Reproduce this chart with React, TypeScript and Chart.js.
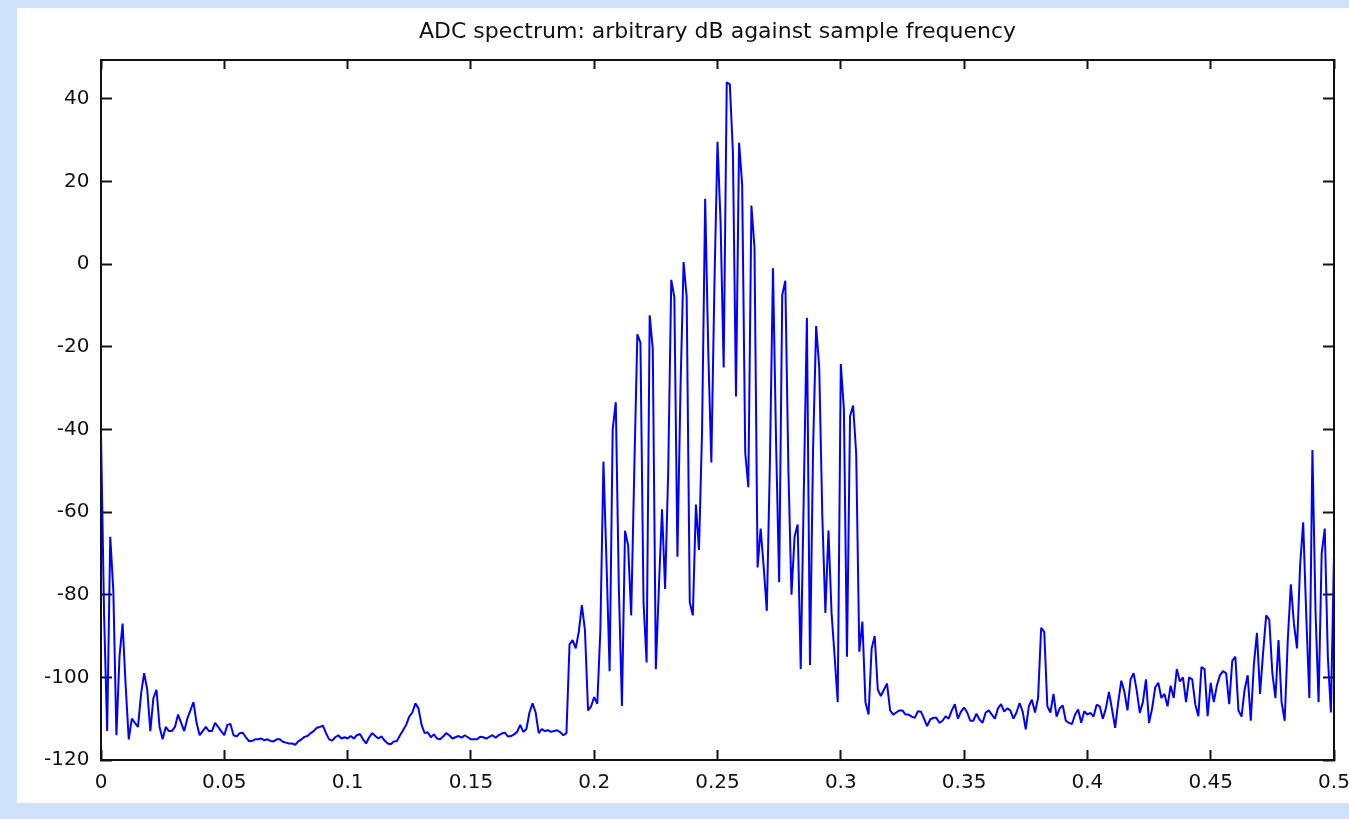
import { useEffect, useRef } from "react";
import { Chart, registerables } from "chart.js";

Chart.register(...registerables);

const TITLE = "ADC spectrum: arbitrary dB against sample frequency";
const FONT_FAMILY = "DejaVu Sans";

// spacing of the spectrum bins (fraction of sample frequency)
const BIN_WIDTH = 0.00125;

// dB values, in bin order
const DB_LOW_BAND = [
  -41, -85, -113, -66, -79, -114, -95, -87, -102, -115,
  -110, -111, -112, -104, -99, -103, -113, -105, -103, -112,
  -115, -112, -113, -113, -112, -109, -111, -113, -110, -108,
  -106, -111, -114, -113, -112, -113, -113, -111, -112, -113,
  -114, -111.5, -111.3, -114, -114.3, -113.5, -113.4, -114.5, -115.4, -115.4,
  -115, -115, -114.8, -115.2, -115, -115.4, -115.5, -115, -115, -115.6,
  -115.8, -116, -116, -116.3, -115.5, -115, -114.4, -114.2, -113.5, -113,
  -112.2, -112, -111.7, -113.5, -115, -115.3, -114.5, -114, -114.8, -114.5,
  -114.8, -114.2, -114.8, -114, -113.7, -115, -116, -114.5, -113.5, -114.2,
  -114.8, -114.3, -115.3, -116, -116.2, -115.5, -115.4, -114, -112.8, -111.5,
  -109.5, -108.5, -106.3, -107.5, -111.5, -113.5, -113.3, -114.5, -113.8, -114.8,
  -115, -114.3, -113.5, -114, -114.8, -114.5, -114.2, -114.6, -114, -114.5,
  -115, -115, -115, -114.4, -114.5, -114.8, -114.4, -114, -114.6, -114,
  -113.6, -113.4, -114.3, -114.2, -113.8, -113.2, -111.5, -113.2, -112.5, -108.5,
  -106.3, -108.5, -113.5, -112.5, -113, -112.8, -113.2, -113, -112.8, -113.3,
  -114, -113.5,
];

const DB_MAIN_LOBE = [
  -92, -91, -93, -89, -82.5, -88.6, -108, -107, -104.8, -106.4,
  -88.6, -47.8, -72.4, -98.5, -40, -33.4, -78.6, -106.9, -64.5, -68,
  -85, -50, -17, -19, -81.8, -96.4, -12.4, -20.5, -98, -78,
  -59.3, -78.6, -50.4, -3.8, -8, -70.8, -30, 0.5, -8, -81.8,
  -85, -58.2, -69.2, -40, 15.8, -21, -48, -5, 29.6, 10,
  -25, 44, 43.5, 27, -32, 29.4, 19.3, -45.7, -54, 14.2,
  4, -73.4, -64, -73.4, -83.9, -48, -1, -43, -77, -7.5,
  -4, -49.9, -80, -66, -63, -98, -55, -13, -97, -45,
  -15, -25, -60.9, -84.4, -64.5, -84.4, -95, -106, -24.2, -35,
  -95, -36.8, -34.2, -46, -93.8, -86.5, -106, -109, -93, -90,
  -103, -104.5, -103, -101.5, -108, -109, -108.5, -108,
];

const DB_HIGH_BAND = [
  -108, -109, -109, -109.5, -109.8, -108.2, -108.3, -110, -111.8, -110.2,
  -109.8, -109.8, -111, -110.5, -109.4, -110, -108, -106.5, -110, -108.3,
  -107.3, -108.5, -110.5, -110.5, -108.8, -110.2, -111, -108.5, -108, -109,
  -110, -107.5, -106.5, -108.3, -107.5, -108, -110, -108.5, -106.2, -108.3,
  -112.6, -107, -105.4, -108.5, -105, -88, -89, -107, -108.5, -104,
  -109.5, -107.5, -106.8, -110.5, -111, -111.3, -109, -107.8, -111, -108.2,
  -109, -108.6, -109.5, -106.6, -107, -110, -107.5, -103.5, -107.8, -112.2,
  -106, -100.8, -103.5, -108, -100.5, -99, -103.2, -108.6, -106, -100.5,
  -111, -107.5, -102.4, -101.3, -105, -104, -107, -102, -105, -98,
  -101, -100, -106, -100, -100.5, -106.5, -109.4, -97.5, -98, -109.4,
  -101.3, -106, -102, -99.5, -98.5, -99, -106.5, -96, -95, -108,
  -109.5, -103, -99.5, -110.5, -97, -89.2, -104, -94, -85, -86,
  -99, -105, -91, -106, -110.5, -91, -77.5, -87, -93, -73,
  -62.5, -85, -105, -45, -84, -106, -70, -64, -95, -108.5,
  -70,
];

const X_TICKS = [0, 0.05, 0.1, 0.15, 0.2, 0.25, 0.3, 0.35, 0.4, 0.45, 0.5];
const Y_TICKS = [-120, -100, -80, -60, -40, -20, 0, 20, 40];
const X_MIN = 0;
const X_MAX = 0.5;
const Y_MIN = -120;
const Y_MAX = 49.4;

const PAGE_BG = "#cfe2fb";
const PANEL_BG = "#ffffff";
const LINE_COLOR = "#0000ff";
const INK = "#111111";

const panelPlugin = {
  id: "panelBackground",
  beforeDraw(chart: any) {
    const { ctx, width, height } = chart;
    ctx.save();
    ctx.fillStyle = PAGE_BG;
    ctx.fillRect(0, 0, width, height);
    ctx.fillStyle = PANEL_BG;
    ctx.fillRect(17, 8, width - 17, 795);
    ctx.restore();
  },
};

const fmtTick = (v: number | string) => String(parseFloat(Number(v).toFixed(3)));

function fixSize(size: number, horizontal: boolean) {
  return (s: any) => {
    if (horizontal) s.height = size;
    else s.width = size;
    s.paddingLeft = 0;
    s.paddingRight = 0;
    s.paddingTop = 0;
    s.paddingBottom = 0;
  };
}

export default function App() {
  const canvasRef = useRef<HTMLCanvasElement | null>(null);

  useEffect(() => {
    const canvas = canvasRef.current;
    if (!canvas) return;
    const dbValues = [...DB_LOW_BAND, ...DB_MAIN_LOBE, ...DB_HIGH_BAND];
    const points = dbValues.map((db, k) => ({ x: k * BIN_WIDTH, y: db }));
    const font = { family: FONT_FAMILY, size: 20 };

    const frameGrid = (len: number) => ({
      drawOnChartArea: false,
      drawTicks: true,
      tickLength: -len,
      tickWidth: 2,
      tickColor: INK,
    });
    const frameBorder = { display: true, color: INK, width: 2 };

    const chart = new Chart(canvas, {
      type: "line",
      data: {
        datasets: [
          {
            data: points,
            borderColor: LINE_COLOR,
            borderWidth: 2,
            borderJoinStyle: "bevel",
            pointRadius: 0,
            tension: 0,
            fill: false,
          },
        ],
      },
      plugins: [panelPlugin],
      options: {
        animation: false,
        responsive: false,
        devicePixelRatio: 1,
        layout: { padding: { left: 0, right: 15, top: 0, bottom: 0 } },
        plugins: {
          legend: { display: false },
          tooltip: { enabled: false },
          title: {
            display: true,
            text: TITLE,
            color: INK,
            fullSize: false,
            font: { family: FONT_FAMILY, size: 22, weight: "normal" },
            padding: { top: 19.5, bottom: 14.1 },
          },
        },
        scales: {
          x: {
            type: "linear",
            position: "bottom",
            min: X_MIN,
            max: X_MAX,
            afterBuildTicks: (s: any) => {
              s.ticks = X_TICKS.map((value) => ({ value }));
            },
            ticks: {
              font,
              color: INK,
              padding: 21,
              maxRotation: 0,
              autoSkip: false,
              callback: (v: any) => fmtTick(v),
            },
            grid: frameGrid(10),
            border: frameBorder,
            afterFit: fixSize(59, true),
          },
          x2: {
            type: "linear",
            position: "top",
            min: X_MIN,
            max: X_MAX,
            afterBuildTicks: (s: any) => {
              s.ticks = X_TICKS.map((value) => ({ value }));
            },
            ticks: { display: false },
            grid: frameGrid(9),
            border: frameBorder,
            afterFit: fixSize(0, true),
          },
          y: {
            type: "linear",
            position: "left",
            min: Y_MIN,
            max: Y_MAX,
            afterBuildTicks: (s: any) => {
              s.ticks = Y_TICKS.map((value) => ({ value }));
            },
            ticks: {
              font,
              color: INK,
              padding: 22.5,
              autoSkip: false,
              callback: (v: any) => fmtTick(v),
            },
            grid: frameGrid(11),
            border: frameBorder,
            afterFit: fixSize(101, false),
          },
          y2: {
            type: "linear",
            position: "right",
            min: Y_MIN,
            max: Y_MAX,
            afterBuildTicks: (s: any) => {
              s.ticks = Y_TICKS.map((value) => ({ value }));
            },
            ticks: { display: false },
            grid: frameGrid(11),
            border: frameBorder,
            afterFit: fixSize(0, false),
          },
        },
      },
    } as any);

    return () => chart.destroy();
  }, []);

  return (
    <div style={{ position: "fixed", left: 0, top: 0, width: 1349, height: 819 }}>
      <canvas ref={canvasRef} width={1349} height={819} style={{ display: "block", width: 1349, height: 819 }} />
    </div>
  );
}
